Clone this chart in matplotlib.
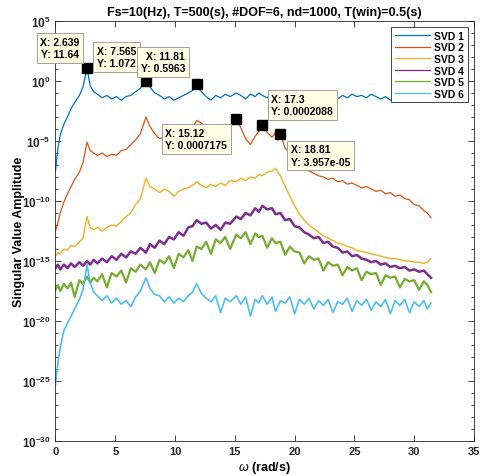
#!/usr/bin/env python3
"""
Singular value spectrum plot (SVD 1-6 vs frequency), MATLAB-look.
"""
import numpy as np
import matplotlib
matplotlib.use("Agg")
import matplotlib.pyplot as plt
from matplotlib.ticker import FixedLocator, NullFormatter

plt.rcParams['font.family'] = ['Liberation Sans', 'DejaVu Sans']
plt.rcParams['mathtext.fontset'] = 'custom'
plt.rcParams['mathtext.rm'] = 'Liberation Sans:bold'
plt.rcParams['mathtext.bf'] = 'Liberation Sans:bold'
plt.rcParams['mathtext.it'] = 'Liberation Sans:italic'

# frequency axis (rad/s)
omega = [0.0, 0.2, 0.4, 0.7, 1.0, 1.3, 1.6, 2.0, 2.3, 2.639, 2.9, 3.2,
         3.5, 3.9, 4.3, 4.7, 5.1, 5.5, 5.9, 6.3, 6.7, 7.1, 7.565, 7.9,
         8.3, 8.7, 9.1, 9.5, 9.9, 10.3, 10.7, 11.1, 11.45, 11.81, 12.2, 12.6,
         13.0, 13.4, 13.8, 14.2, 14.6, 15.12, 15.5, 15.9, 16.3, 16.7, 17.0, 17.3,
         17.7, 18.1, 18.4, 18.81, 19.2, 19.6, 20.0, 20.4, 20.8, 21.2, 21.6, 22.0,
         22.4, 22.8, 23.2, 23.6, 24.0, 24.4, 24.8, 25.2, 25.6, 26.0, 26.4, 26.8,
         27.2, 27.6, 28.0, 28.4, 28.8, 29.2, 29.6, 30.0, 30.4, 30.8, 31.1, 31.4]

# log10 of singular values
svd1 = [-7.5, -5.6, -4.5, -3.6, -3.0, -2.3, -1.8, -1.2, -0.5, 1.066, -0.4, -0.9,
        -1.1, -1.4, -1.2, -1.5, -1.3, -1.6, -1.3, -1.2, -0.9, -0.6, 0.030, -0.5,
        -1.0, -1.2, -1.5, -1.3, -1.6, -1.4, -1.2, -1.0, -0.8, -0.225, -0.9, -1.3,
        -1.6, -1.2, -1.4, -1.1, -1.3, -1.0, -1.2, -1.5, -1.1, -1.3, -1.0, -1.2,
        -1.4, -1.1, -1.3, -1.0, -1.3, -1.1, -1.4, -1.2, -1.5, -1.1, -1.3, -1.2,
        -1.4, -1.1, -1.3, -1.5, -1.2, -1.4, -1.1, -1.3, -1.2, -1.4, -1.1, -1.3,
        -1.5, -1.3, -1.6, -1.4, -1.5, -1.3, -1.6, -1.4, -1.5, -1.3, -1.6, -1.4]
svd2 = [-12.5, -11.8, -11.0, -10.1, -9.4, -8.8, -8.2, -7.6, -6.8, -5.1, -5.8, -6.0,
        -6.2, -6.0, -6.3, -6.1, -6.2, -5.8, -5.7, -5.3, -4.9, -4.4, -3.0, -3.8,
        -4.4, -4.8, -4.7, -4.5, -4.7, -4.4, -4.5, -4.2, -3.9, -3.3, -3.5, -4.0,
        -4.3, -4.5, -4.2, -4.0, -3.7, -3.14, -3.9, -4.8, -5.3, -4.6, -4.2, -3.68,
        -4.3, -4.7, -4.3, -4.40, -5.6, -6.0, -6.5, -6.8, -7.2, -7.5, -7.7, -7.9,
        -8.0, -8.2, -8.1, -8.4, -8.3, -8.6, -8.5, -8.7, -8.9, -8.8, -9.0, -9.2,
        -9.1, -9.4, -9.3, -9.6, -9.5, -9.8, -9.9, -10.3, -10.4, -10.8, -11.0, -11.4]
svd3 = [-14.6, -14.3, -14.4, -14.0, -14.1, -13.7, -13.8, -13.4, -13.1, -11.3, -12.2, -12.4,
        -12.2, -12.5, -12.2, -12.0, -12.1, -11.7, -11.3, -11.0, -10.3, -9.8, -8.1, -8.8,
        -9.0, -9.3, -9.0, -9.2, -9.6, -9.2, -9.0, -8.9, -8.7, -8.4, -8.7, -8.9,
        -8.6, -8.8, -8.5, -8.7, -8.3, -8.4, -8.1, -8.3, -8.0, -8.1, -7.8, -7.9,
        -7.6, -7.5, -7.3, -7.9, -8.8, -9.6, -10.4, -11.1, -11.6, -12.0, -12.3, -12.6,
        -12.9, -13.1, -13.3, -13.5, -13.6, -13.8, -13.9, -14.1, -14.2, -14.3, -14.4, -14.5,
        -14.6, -14.7, -14.8, -14.8, -14.9, -15.0, -15.0, -15.1, -15.1, -15.2, -15.1, -14.8]
svd4 = [-15.6, -15.3, -15.7, -15.3, -15.6, -15.2, -15.5, -15.1, -15.4, -15.0, -15.3, -14.9,
        -15.2, -14.8, -15.1, -14.6, -14.9, -14.4, -14.7, -14.2, -14.4, -13.9, -14.3, -13.6,
        -13.9, -13.3, -13.6, -13.0, -13.2, -12.6, -12.9, -12.2, -12.1, -11.6, -11.9, -11.8,
        -12.3, -12.0, -12.4, -11.8, -11.9, -11.3, -11.5, -11.0, -11.2, -10.6, -10.9, -10.4,
        -10.7, -10.6, -11.1, -11.0, -11.6, -11.5, -12.1, -12.2, -12.6, -12.8, -13.1, -13.0,
        -13.5, -13.4, -13.8, -13.9, -14.3, -14.2, -14.6, -14.5, -14.8, -14.9, -15.1, -15.0,
        -15.3, -15.2, -15.5, -15.4, -15.6, -15.5, -15.8, -15.7, -15.9, -15.8, -16.1, -16.4]
svd5 = [-17.4, -17.0, -17.5, -16.9, -17.3, -16.8, -18.0, -16.6, -16.9, -16.3, -16.8, -16.4,
        -16.7, -16.1, -17.2, -16.0, -16.3, -15.8, -16.8, -15.6, -15.9, -15.3, -15.7, -15.1,
        -16.0, -14.9, -15.2, -14.6, -15.6, -14.4, -14.7, -14.1, -15.0, -13.8, -14.0, -13.4,
        -14.4, -13.2, -13.5, -13.0, -14.0, -12.8, -13.1, -12.6, -13.6, -12.7, -13.0, -12.9,
        -13.9, -13.1, -13.5, -13.4, -14.5, -13.8, -14.2, -14.3, -15.2, -14.6, -14.9, -14.8,
        -15.8, -15.1, -15.4, -15.3, -16.2, -15.5, -15.8, -15.6, -16.6, -15.9, -16.1, -16.0,
        -17.0, -16.2, -16.4, -16.3, -17.2, -16.5, -16.7, -16.6, -17.4, -16.7, -17.0, -17.6]
svd6 = [-25.3, -23.5, -22.2, -20.8, -20.2, -19.6, -19.0, -18.2, -17.4, -15.3, -16.8, -17.6,
        -17.9, -18.3, -17.9, -18.5, -18.1, -18.6, -18.3, -18.8, -18.0, -17.5, -16.4, -17.3,
        -17.8, -17.9, -18.4, -18.0, -18.5, -18.1, -18.4, -17.9, -17.6, -16.9, -17.7, -18.1,
        -18.4, -17.9, -19.3, -18.1, -18.4, -17.9, -18.6, -18.0, -19.6, -18.2, -18.5, -17.9,
        -18.6, -18.0, -19.2, -18.3, -18.5, -18.0, -19.4, -18.2, -18.6, -18.1, -19.0, -18.3,
        -18.7, -18.2, -19.3, -18.4, -18.6, -18.1, -19.2, -18.3, -18.7, -18.2, -19.1, -18.4,
        -18.8, -18.2, -19.4, -18.3, -18.7, -18.2, -19.3, -18.4, -18.8, -18.3, -19.0, -18.5]

labels = ['SVD 1', 'SVD 2', 'SVD 3', 'SVD 4', 'SVD 5', 'SVD 6']
colors = ['#0072BD', '#D95319', '#EDB120', '#7E2F8E', '#77AC30', '#4DBEEE']
widths = [0.9, 0.9, 1.0, 1.8, 1.6, 1.2]

# data tips: x, y, text offset (points), alignment
tip_x = [2.639, 7.565, 11.81, 15.12, 17.3, 18.81]
tip_y = [11.64, 1.072, 0.5963, 0.0007175, 0.0002088, 3.957e-05]
tip_txt = ['11.64', '1.072', '0.5963', '0.0007175', '0.0002088', '3.957e-05']
tip_off = [(-5.5, 6.5), (-7, 9), (-8.5, 7.5), (-51, -6.5), (6.5, 6.5), (7.5, -7.5)]
tip_ha = ['right', 'right', 'right', 'left', 'left', 'left']
tip_va = ['bottom', 'bottom', 'bottom', 'top', 'bottom', 'top']

fig = plt.figure(figsize=(4.80, 4.77), dpi=100)
ax = fig.add_axes([0.1156, 0.0734, 0.872, 0.8805])

for vals, lab, col, lw in zip([svd1, svd2, svd3, svd4, svd5, svd6], labels, colors, widths):
    ax.semilogy(omega, 10.0 ** np.array(vals), color=col, lw=lw, label=lab)

ax.set_xlim(0, 35)
ax.set_ylim(1e-30, 1e5)
ax.set_xticks(range(0, 36, 5))
ax.set_xticklabels([str(v) for v in range(0, 36, 5)], fontweight='bold', fontsize=8)
ydec = list(range(-30, 6, 5))
ax.yaxis.set_major_locator(FixedLocator([10.0 ** k for k in ydec]))
ax.set_yticklabels([r'$\mathbf{10^{%d}}$' % k for k in ydec], fontsize=8.5)
ax.yaxis.set_minor_locator(FixedLocator([10.0 ** k for k in range(-30, 6)]))
ax.yaxis.set_minor_formatter(NullFormatter())
ax.tick_params(which='both', direction='in', top=True, right=True,
               colors='#262626', width=0.6)
ax.tick_params(which='major', length=4)
ax.tick_params(which='minor', length=2.5)
for sp in ax.spines.values():
    sp.set_linewidth(0.6)
    sp.set_color('#262626')

ax.set_title('Fs=10(Hz), T=500(s), #DOF=6, nd=1000, T(win)=0.5(s)',
             fontsize=9, fontweight='bold', pad=4)
ax.set_xlabel(r'$\omega$ (rad/s)', fontsize=9, fontweight='bold', labelpad=2)
ax.set_ylabel('Singular Value Amplitude', fontsize=9, fontweight='bold')
ax.yaxis.set_label_coords(-0.074, 0.5)

leg = ax.legend(loc='upper right', fontsize=7.5, handlelength=3.4,
                labelspacing=0.15, borderaxespad=0.6, fancybox=False,
                framealpha=1, edgecolor='#262626', handletextpad=0.4,
                borderpad=0.35)
leg.get_frame().set_linewidth(0.6)
for line in leg.get_lines():
    line.set_linewidth(0.9)
for t in leg.get_texts():
    t.set_fontweight('bold')

for x, y, s, off, ha, va in zip(tip_x, tip_y, tip_txt, tip_off, tip_ha, tip_va):
    ax.plot([x], [y], 's', color='black', ms=6.5, zorder=5)
    ax.annotate('X: %s\nY: %s' % (x, s), xy=(x, y), xytext=off,
                textcoords='offset points', ha=ha, va=va, fontsize=7.5,
                fontweight='bold', linespacing=1.3, zorder=6,
                bbox=dict(boxstyle='square,pad=0.35', fc='#FFFFE6',
                          ec='#A0A0A0', lw=0.7))

fig.savefig('out.png', dpi=100)
